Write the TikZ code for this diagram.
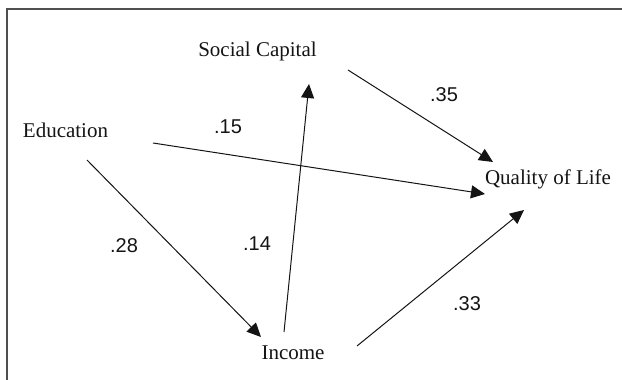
\documentclass[tikz,border=0pt]{standalone}
\usepackage{fontspec}
\setmainfont{Liberation Serif}
\newfontfamily\numfont{Liberation Sans}
\usepackage{xcolor}
\usetikzlibrary{arrows.meta}
\definecolor{inkdark}{HTML}{141414}
\definecolor{framegray}{HTML}{505050}

\begin{document}
\begin{tikzpicture}[
  x=0.5pt, y=-0.5pt,
  var/.style={inner sep=0pt, anchor=base, font=\fontsize{10.5}{12}\selectfont, text=inkdark},
  coef/.style={inner sep=0pt, font=\numfont\fontsize{10}{12}\selectfont, text=inkdark},
  path/.style={-{Triangle[length=7pt, width=6.5pt]}, draw=inkdark, line width=0.5pt}
]
  \clip (0,0) rectangle (622,380);
  \draw[framegray, line width=1pt] (7,9) rectangle (660,420);

  \node[var] (soccap) at (257.5,56.7) {Social Capital};
  \node[var] (edu) at (65.5,137) {Education};
  \node[var] (qol) at (548,184) {Quality of Life};
  \node[var] (income) at (293,359) {Income};

  \draw[path] ([shift={(21.5,23)}]edu.base) -- ([shift={(-32,-22)}]income.base);
  \draw[path] ([shift={(-9,-27)}]income.base) -- ([shift={(51.5,27.3)}]soccap.base);
  \draw[path] ([shift={(87.5,6)}]edu.base) -- ([shift={(-63,10)}]qol.base);
  \draw[path] ([shift={(90.5,13.3)}]soccap.base) -- ([shift={(-55,-22)}]qol.base);
  \draw[path] ([shift={(64,-13)}]income.base) -- ([shift={(-24,26)}]qol.base);

  \node[coef] (c35) at (444,95) {.35};
  \node[coef] (c15) at (228,127) {.15};
  \node[coef] (c28) at (124,246) {.28};
  \node[coef] (c14) at (257,244) {.14};
  \node[coef] (c33) at (467,304) {.33};
\end{tikzpicture}
\end{document}
